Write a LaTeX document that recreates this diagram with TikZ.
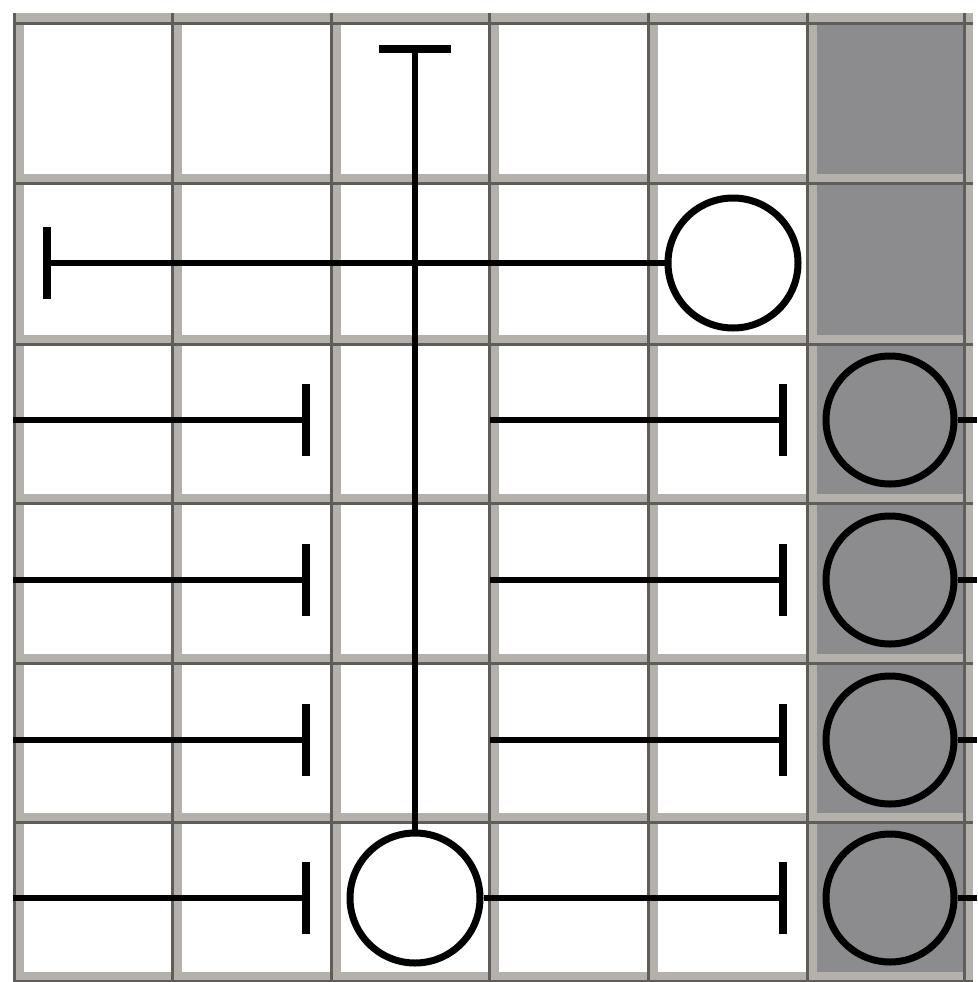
\documentclass[tikz,border=0pt]{standalone}
\usetikzlibrary{arrows.meta}
\definecolor{band}{RGB}{180,176,172}
\definecolor{bandd}{RGB}{95,92,90}
\definecolor{cellgray}{RGB}{140,140,142}
\begin{document}
\begin{tikzpicture}[x=1pt,y=-1pt,
  conn/.style={draw=black, line width=6.5pt},
  tbar/.style={conn, -{Bar[width=72pt, line width=8pt]}},
  wcirc/.style={circle, draw=black, line width=7pt, fill=white, minimum size=130pt, inner sep=0pt},
  gcirc/.style={circle, draw=black, line width=7pt, fill=cellgray, minimum size=128pt, inner sep=0pt}]
\useasboundingbox[fill=white] (0,0) rectangle (977,982);
% grid bands
\fill[band] (13,13) rectangle (973,982);
\foreach \ya/\yb in {20/179,179/340,340/499,499/659,659/818,818/977}{
  \foreach \xa/\xb in {18/176,176/335,335/493,493/652,652/811}{
    \fill[white] (\xa+5.5,\ya+5.5) rectangle (\xb-5.5,\yb-5.5);
  }
  \fill[cellgray] (811+5.5,\ya+5.5) rectangle (968-5.5,\yb-5.5);
}
\foreach \x in {18,176,335,493,652,811,968}{
  \draw[bandd, line width=3pt] (\x-4,13) -- (\x-4,982);
}
\foreach \y in {20,179,340,499,659,818,977}{
  \draw[bandd, line width=3pt] (13,\y+4) -- (973,\y+4);
}
% circles
\node[wcirc] (c1) at (733,263) {};
\node[wcirc] (c2) at (415,898) {};
\node[gcirc] (g3) at (890,420) {};
\node[gcirc] (g4) at (890,580) {};
\node[gcirc] (g5) at (890,740) {};
\node[gcirc] (g6) at (890,898) {};
% free ends
\coordinate (top) at (415,45);
\coordinate (l2) at (43,263);
\foreach \r/\y in {3/420,4/580,5/740,6/898}{
  \coordinate (L\r) at (13,\y);
  \coordinate (T\r) at (310,\y);
  \coordinate (S\r) at (490,\y);
  \coordinate (R\r) at (787,\y);
  \coordinate (E\r) at (977,\y);
}
% connectors
\draw[tbar] (c2.north) -- (top);
\draw[tbar] (c1.west) -- (l2);
\foreach \r in {3,4,5,6}{
  \draw[tbar] (L\r) -- (T\r);
  \draw[conn] (g\r.east) -- (E\r);
}
\foreach \r in {3,4,5}{
  \draw[tbar] (S\r) -- (R\r);
}
\draw[tbar] (c2.east) -- (R6);
\end{tikzpicture}
\end{document}
